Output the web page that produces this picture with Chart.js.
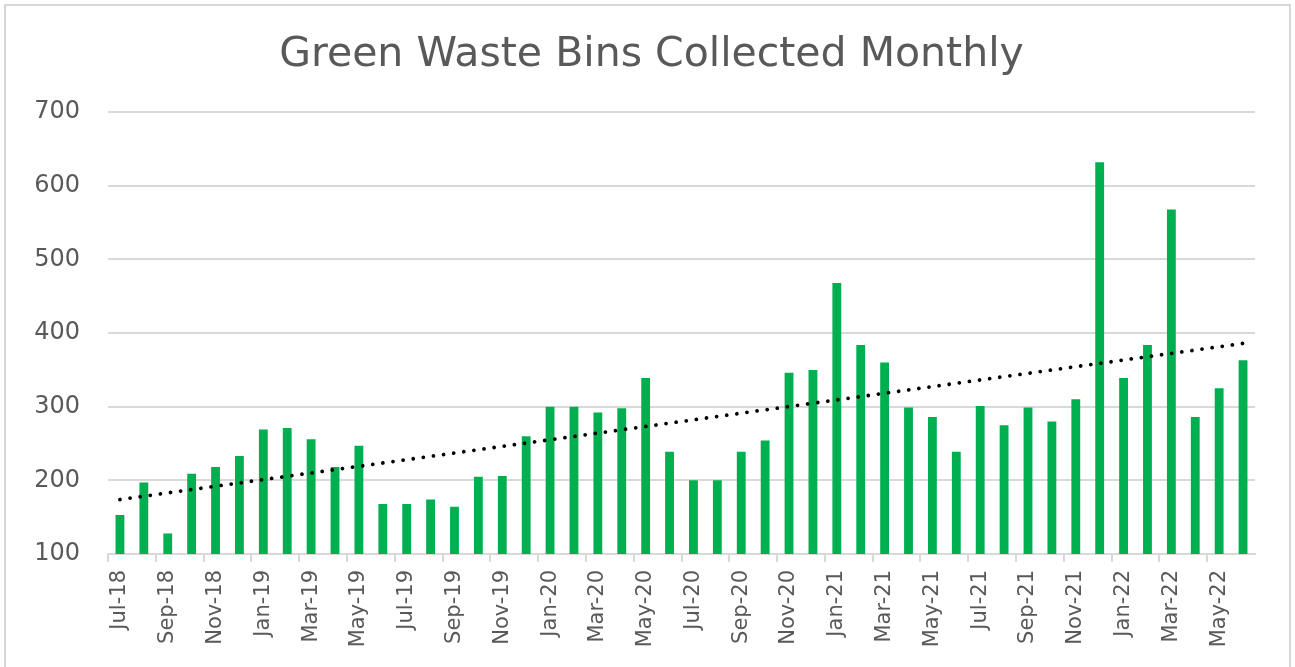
<!DOCTYPE html>
<html>
<head>
<meta charset="utf-8">
<script src="https://cdn.jsdelivr.net/npm/chart.js@4.4.1/dist/chart.umd.min.js"></script>
<style>
  html, body { margin: 0; padding: 0; background: #ffffff; }
  #wrap { position: relative; width: 1295px; height: 667px; }
</style>
</head>
<body>
<div id="wrap"><canvas id="c" width="1295" height="667"></canvas></div>
<script>
const titleText = "Green Waste Bins Collected Monthly";

const months = [
  "Jul-18","Aug-18","Sep-18","Oct-18","Nov-18","Dec-18",
  "Jan-19","Feb-19","Mar-19","Apr-19","May-19","Jun-19",
  "Jul-19","Aug-19","Sep-19","Oct-19","Nov-19","Dec-19",
  "Jan-20","Feb-20","Mar-20","Apr-20","May-20","Jun-20",
  "Jul-20","Aug-20","Sep-20","Oct-20","Nov-20","Dec-20",
  "Jan-21","Feb-21","Mar-21","Apr-21","May-21","Jun-21",
  "Jul-21","Aug-21","Sep-21","Oct-21","Nov-21","Dec-21",
  "Jan-22","Feb-22","Mar-22","Apr-22","May-22","Jun-22"
];

const binsCollected = [
  153,197,128,209,218,233,
  269,271,256,218,247,168,
  168,174,164,205,206,260,
  300,300,292,298,339,239,
  200,200,239,254,346,350,
  468,384,360,299,286,239,
  301,275,299,280,310,632,
  339,384,568,286,325,363
];

// Linear trendline end values
const trendStart = 174;
const trendEnd = 386;

const yTicks = [100, 200, 300, 400, 500, 600, 700];

const trendData = months.map((m, i) =>
  i === 0 ? trendStart : (i === months.length - 1 ? trendEnd : null));

const TEXT = "#595959";
const GRID = "#d9d9d9";
const FONT = "'DejaVu Sans', 'Open Sans', sans-serif";

const frame = {
  id: "frame",
  afterLayout(chart) {
    if (chart.titleBlock) { chart.titleBlock.left += 38; }
  },
  beforeDraw(chart) {
    const ctx = chart.ctx;
    ctx.save();
    ctx.fillStyle = "#ffffff";
    ctx.fillRect(0, 0, chart.width, chart.height);
    ctx.strokeStyle = "#d6d6d6";
    ctx.lineWidth = 2;
    ctx.strokeRect(5, 5, 1285, 680);
    ctx.restore();
  }
};

new Chart(document.getElementById("c"), {
  data: {
    labels: months,
    datasets: [
      {
        type: "line",
        label: "Linear trend",
        data: trendData,
        spanGaps: true,
        borderColor: "#000000",
        borderWidth: 3.8,
        borderDash: [0.01, 10.2],
        borderCapStyle: "round",
        pointRadius: 0,
        fill: false,
        order: 0
      },
      {
        type: "bar",
        label: "Bins collected",
        data: binsCollected,
        backgroundColor: "#00b050",
        borderWidth: 0,
        categoryPercentage: 1.0,
        barPercentage: 0.37,
        order: 1
      }
    ]
  },
  options: {
    responsive: false,
    animation: false,
    layout: { padding: { left: 10, right: 40, top: 12, bottom: 10 } },
    plugins: {
      legend: { display: false },
      tooltip: { enabled: false },
      title: {
        display: true,
        text: titleText,
        color: TEXT,
        font: { family: FONT, size: 41, weight: "normal" },
        padding: { top: 19, bottom: 32 }
      }
    },
    scales: {
      x: {
        type: "category",
        offset: true,
        grid: {
          display: true,
          offset: true,
          drawOnChartArea: false,
          drawTicks: true,
          tickLength: 8,
          lineWidth: 2,
          color: (ctx) => (ctx.index % 2 === 0 ? GRID : "rgba(0,0,0,0)")
        },
        border: { display: true, color: GRID, width: 2 },
        ticks: {
          autoSkip: false,
          maxRotation: 90,
          minRotation: 90,
          padding: 8,
          color: TEXT,
          font: { family: FONT, size: 21 },
          callback: function (value, index) {
            return index % 2 === 0 ? months[index] : "";
          }
        },
        afterFit(scale) { scale.height = 103; }
      },
      y: {
        min: yTicks[0],
        max: yTicks[yTicks.length - 1],
        afterBuildTicks(scale) {
          scale.ticks = yTicks.map(v => ({ value: v }));
        },
        grid: {
          color: GRID,
          lineWidth: 2,
          drawTicks: false
        },
        border: { display: false },
        ticks: {
          padding: 28,
          color: TEXT,
          font: { family: FONT, size: 24 }
        },
        afterFit(scale) { scale.width = 98; }
      }
    }
  },
  plugins: [frame]
});
</script>
</body>
</html>
